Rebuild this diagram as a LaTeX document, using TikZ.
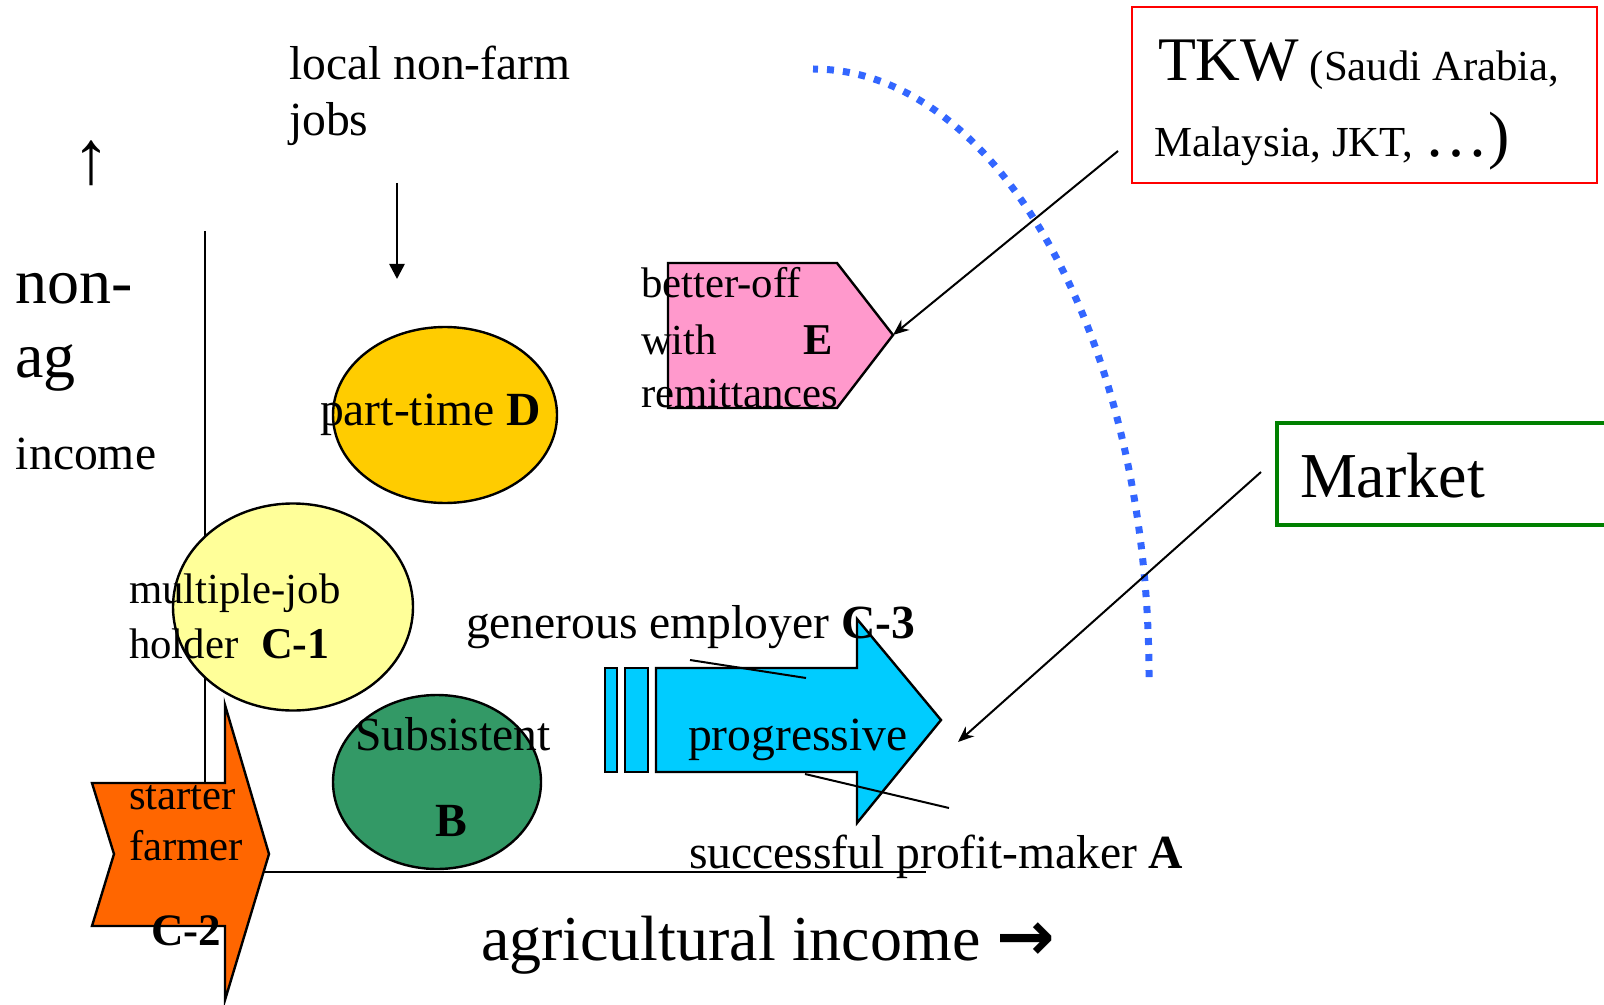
\documentclass[tikz,border=0pt]{standalone}
\usepackage{fontspec}
\setmainfont{Liberation Serif}
\newfontfamily\symfont{DejaVu Sans}
\usetikzlibrary{arrows.meta,shapes.geometric}
\definecolor{orangeC}{HTML}{FF6600}
\definecolor{yellowC}{HTML}{FFFF99}
\definecolor{greenC}{HTML}{339966}
\definecolor{goldC}{HTML}{FFCC00}
\definecolor{pinkC}{HTML}{FF99CC}
\definecolor{cyanC}{HTML}{00CCFF}
\definecolor{dotblue}{HTML}{3366FF}
\definecolor{redC}{HTML}{FF0000}
\definecolor{marketC}{HTML}{008000}
\begin{document}
\begin{tikzpicture}[x=0.5pt,y=-0.5pt,
  txt/.style={anchor=base west, inner sep=0pt, outer sep=0pt},
  fbig/.style={font=\fontsize{32}{38}\selectfont},
  fmed/.style={font=\fontsize{23.8}{28}\selectfont},
  fsml/.style={font=\fontsize{21.4}{25}\selectfont},
  outl/.style={draw=black, line width=1.2pt},
  axisline/.style={draw=black, line width=1pt},
  conn/.style={draw=black, line width=1pt},
  oval/.style={ellipse, outl, inner sep=0pt}]
\useasboundingbox (0,0) rectangle (1604,1005);

% axes
\coordinate (ytop) at (205,231);
\coordinate (ybot) at (205,790);
\coordinate (xl) at (205,872);
\coordinate (xr) at (926,872);
\draw[axisline] (ytop) -- (ybot);
\draw[axisline] (xl) -- (xr);

% blue dotted boundary
\coordinate (arcend) at (1149,677);
\draw[dotblue, line width=3.5pt, dash pattern=on 3.5pt off 4.5pt]
  (arcend) arc[start angle=0, end angle=90, x radius=168pt, y radius=304pt];

% ellipses
\node[oval, fill=goldC, minimum width=112pt, minimum height=88pt] (D) at (445,415) {};
\node[oval, fill=yellowC, minimum width=120pt, minimum height=103.5pt] (C1) at (293,607) {};
\node[oval, fill=greenC, minimum width=104pt, minimum height=87pt] (B) at (437,782) {};

% starter farmer notched arrow
\draw[outl, fill=orangeC] (92,783) -- (225,783) -- (225,705) -- (269,854) -- (225,1000)
  -- (225,926) -- (92,926) -- (114,854) -- cycle;

% better-off pentagon
\draw[outl, fill=pinkC] (668,263) -- (837,263) -- (893,335) -- (837,408) -- (668,408) -- cycle;
\coordinate (Etip) at (893,335);

% progressive striped arrow
\draw[outl, fill=cyanC] (605,668) rectangle (617,772);
\draw[outl, fill=cyanC] (625,668) rectangle (648,772);
\draw[outl, fill=cyanC] (656,668) -- (857,668) -- (857,619) -- (941,720) -- (857,823)
  -- (857,772) -- (656,772) -- cycle;

% callout lines
\coordinate (g1) at (690,660);
\coordinate (g2) at (806,678);
\coordinate (s1) at (805,774);
\coordinate (s2) at (949,808);
\draw[conn] (g1) -- (g2);
\draw[conn] (s1) -- (s2);

% boxes
\node[draw=redC, line width=1pt, minimum width=232.5pt, minimum height=88pt, inner sep=0pt] (TKW) at (1364.5,95) {};
\node[draw=marketC, line width=2pt, minimum width=171.5pt, minimum height=51pt, inner sep=0pt] (Market) at (1448.5,474) {};

% arrows to shapes
\coordinate (tkwstart) at (1118,151);
\draw[conn, -{Stealth[length=8pt,width=6.5pt]}] (tkwstart) -- (Etip);
\coordinate (mkstart) at (1261,472);
\coordinate (mkend) at (958,742);
\draw[conn, -{Stealth[length=8pt,width=6.5pt]}] (mkstart) -- (mkend);
\coordinate (dtop) at (397,183);
\coordinate (dbot) at (397,279);
\draw[draw=black, line width=1.3pt, -{Triangle[length=7.5pt,width=7.5pt]}] (dtop) -- (dbot);

% texts
\node[txt, fmed] (t1) at (289,80) {local non-farm};
\node[txt, fmed] (t2) at (289,136) {jobs};
\node[anchor=base, inner sep=0pt, font=\fontsize{38}{44}\selectfont] (up) at (91,184) {↑};
\node[txt, fbig] (t3) at (15,304) {non-};
\node[txt, fbig] (t4) at (15,378) {ag};
\node[txt, fmed] (t5) at (16,469) {income};
\node[txt, fmed] (t6) at (320,425) {part-time \textbf{D}};
\node[txt, fsml] (t7) at (641,298) {better-off};
\node[txt, fsml] (t8) at (641,355) {with};
\node[txt, fsml] (t9) at (641,407) {remittances};
\node[txt, font=\fontsize{22}{26}\selectfont\bfseries] (t10) at (803,355) {E};
\node[txt, fsml] (t11) at (1158,81) {{\fontsize{31}{36}\selectfont TKW} (Saudi Arabia,};
\node[txt, fsml] (t12) at (1154,157) {Malaysia, JKT, {\fontsize{32}{36}\selectfont …)}};
\node[txt, fbig] (t13) at (1300,497) {Market};
\node[txt, fsml] (t14) at (129,603) {multiple-job};
\node[txt, fsml] (t15) at (129,658) {holder};
\node[txt, font=\fontsize{22}{26}\selectfont\bfseries] (t16) at (261,658) {C-1};
\node[txt, fmed] (t17) at (466,638) {generous employer \textbf{C-3}};
\node[txt, fmed] (t18) at (688,750) {progressive};
\node[txt, fmed] (t19) at (355,750) {Subsistent};
\node[txt, fmed] (t20) at (435,836) {\textbf{B}};
\node[txt, fsml] (t21) at (129,809) {starter};
\node[txt, fsml] (t22) at (129,860) {farmer};
\node[txt, font=\fontsize{22.5}{26}\selectfont\bfseries] (t23) at (151,945) {C-2};
\node[txt, fmed] (t24) at (689,868) {successful profit-maker \textbf{A}};
\node[txt, fbig] (t25) at (481,960) {agricultural income {\symfont\bfseries\fontsize{35}{40}\selectfont →}};
\end{tikzpicture}
\end{document}
